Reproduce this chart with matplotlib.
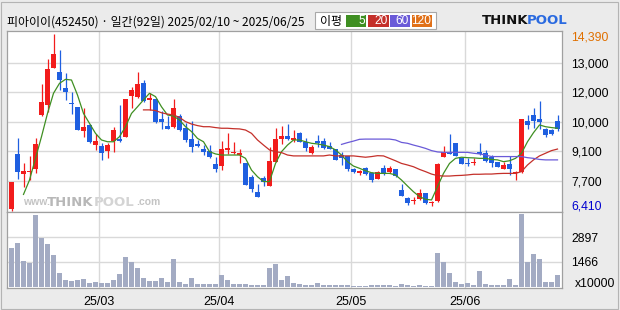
import numpy as np
import matplotlib
matplotlib.use('Agg')
import matplotlib.pyplot as plt
import matplotlib.transforms as mtransforms
from matplotlib.patches import Rectangle

plt.rcParams['font.family'] = ['Noto Sans CJK KR', 'DejaVu Sans']

# daily candles 2025/02/10 ~ 2025/06/25 (92 trading days)
opens = [6480, 8970, 8080, 8140, 8270, 10730, 11180, 12870, 12670, 11960,
         11270, 11090, 10010, 10280, 9370, 9330, 9120, 9570, 9630, 9720,
         11600, 11560, 12160, 11390, 11450, 10550, 10230, 10200, 10680, 10160,
         9640, 9400, 9180, 9120, 8510, 8440, 9160, 9010, 8920, 8570,
         7940, 7250, 7880, 7540, 8620, 9640, 9780, 9600, 9900, 9520,
         9030, 9550, 9550, 9330, 9190, 8940, 8880, 8270, 8120, 8350,
         8120, 7850, 8350, 8140, 8290, 7340, 6990, 6840, 6920, 7190,
         6740, 6840, 8850, 9040, 9450, 8800, 8570, 8570, 9040, 9000,
         8820, 8590, 8300, 8510, 8120, 8170, 10470, 10730, 10530, 10100,
         10050, 10470]
highs = [7720, 9700, 8570, 8880, 9700, 12130, 13250, 14390, 13670, 12610,
         11770, 11090, 11030, 10320, 9860, 9450, 9450, 10170, 11180, 11450,
         12010, 12660, 12310, 11740, 11450, 10910, 10680, 11450, 10760, 10350,
         10470, 9600, 9370, 9370, 8850, 9550, 9930, 9510, 9210, 8570,
         8030, 7610, 7990, 9300, 10140, 10230, 10320, 10050, 9960, 9670,
         9370, 9830, 9690, 9490, 9190, 9040, 8880, 8350, 8240, 8390,
         8170, 8200, 8470, 8440, 8290, 7590, 7040, 7040, 7370, 7220,
         6860, 8540, 9330, 9860, 9450, 8850, 8800, 8770, 9450, 9150,
         8920, 8620, 8620, 8890, 8200, 10530, 10730, 11030, 11380, 10130,
         10100, 10730]
lows = [6410, 7840, 7490, 7790, 8120, 10700, 10880, 12870, 11860, 11410,
        10760, 10050, 9750, 9450, 9150, 8700, 8800, 9070, 9520, 9720,
        11060, 11480, 11330, 10960, 10380, 10100, 10080, 10160, 10020, 9520,
        9070, 9300, 8920, 8770, 8170, 8240, 8970, 8970, 8570, 7570,
        7250, 7040, 7540, 7540, 8620, 9400, 9600, 9520, 9490, 9100,
        8950, 9300, 9190, 9180, 8700, 8470, 8210, 8120, 8020, 8020,
        7720, 7840, 8030, 8090, 7940, 7080, 6660, 6710, 6890, 6710,
        6630, 6810, 8820, 8950, 8880, 8500, 8440, 8470, 8920, 8620,
        8390, 8390, 8290, 8020, 7790, 8090, 10100, 10130, 10100, 9720,
        9830, 10010]
closes = [7720, 8170, 8200, 8200, 9420, 11330, 12810, 13490, 12330, 11780,
          11240, 10050, 10190, 9520, 9550, 9030, 9370, 10050, 9570, 11450,
          11860, 12130, 11380, 11510, 10430, 10400, 10110, 11050, 10050, 9600,
          9300, 9340, 9060, 8850, 8270, 9190, 9250, 9070, 9010, 7570,
          7400, 7040, 7720, 8650, 9640, 9780, 9630, 9700, 9520, 9220,
          9300, 9450, 9220, 9210, 8700, 8790, 8300, 8170, 8200, 8060,
          7790, 8140, 8060, 8350, 7970, 7080, 6740, 6890, 7190, 6740,
          6770, 8510, 9060, 8980, 8880, 8530, 8510, 8620, 8950, 8650,
          8540, 8390, 8450, 8290, 8170, 10530, 10290, 10470, 10400, 9830,
          9870, 10080]
# volume, x10000 shares
volumes = [2258, 2567, 1525, 1428, 4188, 2856, 2509, 1872, 830, 405,
           367, 425, 483, 270, 328, 251, 251, 425, 772, 1756,
           1467, 1119, 540, 367, 367, 540, 328, 1641, 328, 193,
           540, 193, 193, 193, 193, 714, 425, 193, 193, 193,
           135, 135, 135, 1119, 1351, 425, 656, 251, 193, 135,
           135, 251, 135, 135, 135, 135, 135, 77, 77, 77,
           135, 135, 135, 135, 77, 193, 135, 77, 135, 77,
           77, 1988, 1467, 830, 309, 193, 251, 135, 946, 193,
           135, 135, 135, 483, 135, 4246, 1467, 1930, 1641, 309,
           309, 714]

# moving averages as drawn on the chart
ma5 = [None, None, 7140, 7790, 8770, 9750, 10800, 11710, 12160, 12340,
       12310, 11630, 10800, 10350, 9900, 9600, 9520, 9520, 9750, 10200,
       10800, 11100, 11410, 11710, 11560, 11100, 10730, 10680, 10500, 10200,
       9980, 9670, 9520, 9070, 8970, 8920, 8920, 8920, 8920, 8770,
       8240, 7940, 7720, 7720, 8540, 9070, 9370, 9600, 9600, 9520,
       9450, 9420, 9370, 9300, 9150, 8920, 8620, 8420, 8320, 8210,
       8120, 8090, 8090, 8090, 8020, 7790, 7520, 7260, 7040, 6920,
       6890, 7490, 8090, 8540, 8770, 8820, 8800, 8790, 8770, 8770,
       8720, 8700, 8620, 8660, 8770, 9000, 9520, 9930, 10280, 10200,
       10160, 10130]
ma20 = [None] * 22 + [
    10960, 10960, 10930, 10830, 10770, 10730, 10620, 10430, 10320, 10250,
    10200, 10200, 10160, 10130, 10130, 10110, 10100, 10050, 9900, 9600,
    9370, 9150, 9070, 9030, 8920, 8880, 8880, 8880, 8880, 8880,
    8880, 8920, 8880, 8880, 8880, 8880, 8850, 8820, 8850, 8890,
    8880, 8770, 8660, 8540, 8470, 8390, 8270, 8170, 8060, 7990,
    7970, 7970, 7990, 8000, 8020, 8050, 8050, 8060, 8060, 8080,
    8090, 8090, 8090, 8170, 8470, 8700, 8880, 9000, 9120, 9190]
ma60 = [None] * 55 + [
    9400, 9480, 9550, 9630, 9640, 9640, 9640, 9640, 9640, 9600,
    9490, 9450, 9370, 9300, 9220, 9120, 9060, 9040, 9040, 9040,
    9040, 9040, 9000, 8970, 8920, 8850, 8850, 8850, 8850, 8850,
    8850, 8800, 8770, 8720, 8700, 8700, 8700]

month_first = [15, 35, 57, 76]
month_labels = ['25/03', '25/04', '25/05', '25/06']
price_grid = [13080, 11770, 10410, 9100, 7750]
price_labels = ['13,000', '12,000', '10,000', '9,100', '7,700']
vol_ticks = [1466, 2897]

W, H = 620, 310
RED = '#f21c1c'
BLUE = '#1f5fe0'
GRID = '#d9d9d9'
FRAME = '#a0a0a0'
NUMFONT = 'Liberation Sans'


def px(x, y):
    return x / W, 1 - y / H


fig = plt.figure(figsize=(6.2, 3.1), dpi=100, facecolor='#ebebeb')
fig.add_artist(Rectangle((1 / W, 1 / H), 617 / W, 307 / H, transform=fig.transFigure,
                         fill=False, edgecolor='#b4b4b4', lw=0.8))

ax1 = fig.add_axes([7 / W, 98 / H, 555 / W, 181 / H])
ax2 = fig.add_axes([7 / W, 22 / H, 555 / W, 76 / H])

idx = np.arange(len(closes))
o = np.array(opens, dtype=float)
c = np.array(closes, dtype=float)
hi = np.array(highs, dtype=float)
lo = np.array(lows, dtype=float)
cols = np.where(c >= o, RED, BLUE)

# watermark behind the candles
ax1.text(0.028, 0.04, 'www.', transform=ax1.transAxes, fontsize=7.5, color='#c4c4c4',
         fontweight='bold', family=NUMFONT, zorder=0)
ax1.text(0.072, 0.035, 'THINK', transform=ax1.transAxes, fontsize=9.5, color='#b8b8b8',
         fontweight='bold', family='DejaVu Sans', zorder=0)
ax1.text(0.156, 0.035, 'POOL', transform=ax1.transAxes, fontsize=9.5, color='#d4d4d4',
         fontweight='bold', family='DejaVu Sans', zorder=0)
ax1.text(0.232, 0.04, '.com', transform=ax1.transAxes, fontsize=7.5, color='#c4c4c4',
         fontweight='bold', family=NUMFONT, zorder=0)

ax1.vlines(idx, lo, hi, colors=cols, linewidth=0.9, zorder=3)
ax1.bar(idx, np.maximum(np.abs(c - o), 45), bottom=np.minimum(o, c), width=0.82,
        color=cols, linewidth=0, zorder=3)

ax1.plot(idx, np.array(ma5, dtype=float), color='#3f8f22', lw=0.9, zorder=4)
ax1.plot(idx, np.array(ma20, dtype=float), color='#c4302a', lw=0.9, zorder=4)
ax1.plot(idx, np.array(ma60, dtype=float), color='#6a5ad8', lw=0.9, zorder=4)

ax2.bar(idx, volumes, width=0.82, color='#a3abc3', linewidth=0, zorder=3)

for ax in (ax1, ax2):
    ax.set_xlim(-0.75, 91.75)
    ax.set_facecolor('white')
    for s in ax.spines.values():
        s.set_color(FRAME)
        s.set_linewidth(0.9)
    for m in month_first:
        ax.axvline(m - 0.5, color=GRID, lw=1, zorder=1)
    ax.yaxis.tick_right()
    ax.tick_params(length=0)

ax1.set_ylim(6345, 14525)
ax1.set_yticks(price_grid)
ax1.set_yticklabels(price_labels)
ax1.tick_params(axis='y', pad=6.5, labelsize=8.8)
for t in ax1.get_yticklabels():
    t.set_family(NUMFONT)
ax1.set_xticks([])
for g in price_grid:
    ax1.axhline(g, color=GRID, lw=1, zorder=1)

blend1 = mtransforms.blended_transform_factory(ax1.transAxes, ax1.transData)
ax1.annotate(f'{max(highs):,}', xy=(1, max(highs)), xycoords=blend1, xytext=(6.5, -2.2),
             textcoords='offset points', va='center', ha='left', fontsize=8.8,
             color='#e07000', family=NUMFONT)
ax1.annotate(f'{min(lows):,}', xy=(1, min(lows)), xycoords=blend1, xytext=(6.5, 2.9),
             textcoords='offset points', va='center', ha='left', fontsize=8.8,
             color='#0000d0', family=NUMFONT)

ax2.set_ylim(-40, 4360)
ax2.set_yticks(vol_ticks)
ax2.set_yticklabels([str(v) for v in vol_ticks])
ax2.tick_params(axis='y', pad=6.5, labelsize=8.8)
for t in ax2.get_yticklabels():
    t.set_family(NUMFONT)
for g in vol_ticks:
    ax2.axhline(g, color=GRID, lw=1, zorder=1)
ax2.set_xticks([m - 0.5 for m in month_first])
ax2.set_xticklabels(month_labels, family=NUMFONT, fontsize=9)
ax2.tick_params(axis='x', pad=6)
fig.text(*px(575, 284), 'x10000', fontsize=8.8, va='center', ha='left', family=NUMFONT)

# header
fig.text(*px(7, 22), '피아이이(452450) · 일간(92일) 2025/02/10 ~ 2025/06/25',
         fontsize=8.6, va='center', ha='left')

fig.add_artist(Rectangle(px(315, 28.7), 121 / W, 16.7 / H, transform=fig.transFigure,
                         facecolor='white', edgecolor='#a8a8a8', lw=0.8))
fig.text(*px(320, 21), '이평', fontsize=8.6, va='center', ha='left')
boxes = [(346, 366, '#3f8f22', '5'), (368, 389, '#c4302a', '20'),
         (390, 410, '#6a5ad8', '60'), (412, 432, '#e07018', '120')]
for x0, x1, col, lab in boxes:
    fig.add_artist(Rectangle(px(x0, 27.3), (x1 - x0) / W, 12.6 / H,
                             transform=fig.transFigure, facecolor=col, edgecolor='none'))
    fig.text(*px(x1 - 1, 21.3), lab, fontsize=8.6, color='white', va='center', ha='right',
             family=NUMFONT)

fig.text(*px(482, 21), 'THINK', fontsize=9.5, fontweight='bold', color='#111111',
         va='center', ha='left', family='DejaVu Sans')
fig.text(*px(527, 21), 'POOL', fontsize=9.5, fontweight='bold', color='#2a6ae0',
         va='center', ha='left', family='DejaVu Sans')

fig.savefig('out.png', dpi=100, facecolor=fig.get_facecolor())
